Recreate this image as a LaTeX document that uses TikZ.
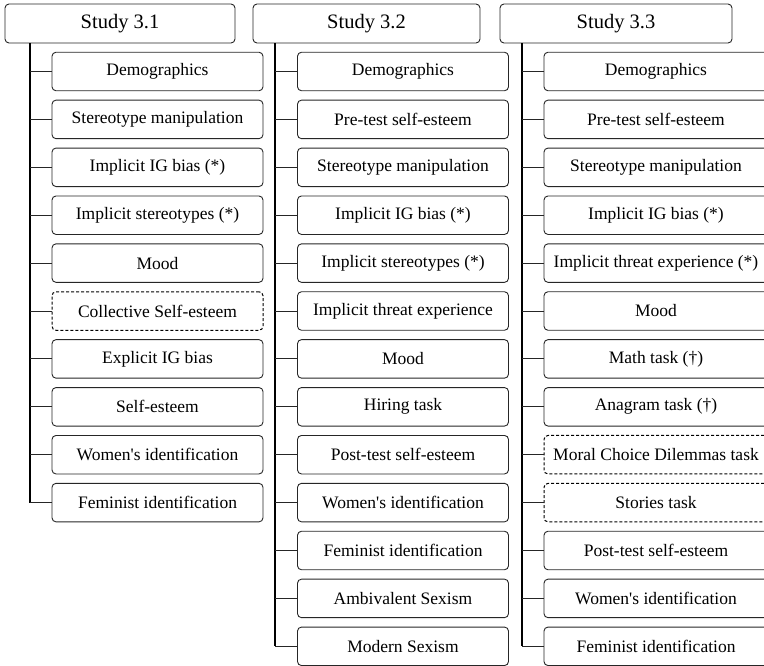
\documentclass[tikz,border=0pt]{standalone}
\usepackage{fontspec}
\setmainfont{Liberation Serif}[Ligatures=TeXOff]
\begin{document}
\begin{tikzpicture}[x=1pt,y=-1pt,
  box/.style={draw=black!85, line width=0.9pt, rounded corners=4pt, inner sep=0pt, align=center},
  head/.style={box, minimum width=230pt, minimum height=39pt, font=\fontsize{20.5}{24}\selectfont},
  item/.style={box, minimum width=211pt, minimum height=38.5pt, font=\fontsize{17.5}{21}\selectfont},
  solid item/.style={item},
  opt item/.style={item, draw=black, line width=1pt, dash pattern=on 3pt off 2pt},
  trunk/.style={draw=black, line width=1.4pt},
  branch/.style={draw=black!85, line width=0.9pt}]
\useasboundingbox (0,0) rectangle (764,665);

\node[head] (h1) at (120,23.5) {Study 3.1};
\node[head, minimum width=227pt] (h2) at (366.5,23.5) {Study 3.2};
\node[head, minimum width=232pt] (h3) at (616,23.5) {Study 3.3};

\coordinate (s1) at (30,0);
\coordinate (s2) at (275,0);
\coordinate (s3) at (522,0);

% Study 3.1
\foreach \t/\s [count=\i] in {Demographics/solid item, Stereotype manipulation/solid item, Implicit IG bias (*)/solid item, Implicit stereotypes (*)/solid item, Mood/solid item, Collective Self-esteem/opt item, Explicit IG bias/solid item, Self-esteem/solid item, Women's identification/solid item, Feminist identification/solid item}{
  \node[\s] (a\i) at (157.5, 71.5+47.9*\i-47.9) {\t};
}

% Study 3.2
\foreach \t [count=\i] in {Demographics, Pre-test self-esteem, Stereotype manipulation, Implicit IG bias (*), Implicit stereotypes (*), Implicit threat experience, Mood, Hiring task, Post-test self-esteem, Women's identification, Feminist identification, Ambivalent Sexism, Modern Sexism}{
  \node[solid item] (b\i) at (403, 71.5+47.9*\i-47.9) {\t};
}

% Study 3.3
\foreach \t/\s [count=\i] in {Demographics/solid item, Pre-test self-esteem/solid item, Stereotype manipulation/solid item, Implicit IG bias (*)/solid item, Implicit threat experience (*)/solid item, Mood/solid item, Math task (\textdagger)/solid item, Anagram task (\textdagger)/solid item, Moral Choice Dilemmas task/opt item, Stories task/opt item, Post-test self-esteem/solid item, Women's identification/solid item, Feminist identification/solid item}{
  \node[\s, minimum width=224pt] (c\i) at (656, 71.5+47.9*\i-47.9) {\t};
}

% trunks and branches
\draw[trunk] (h1.south -| s1) -- (a10.west -| s1);
\foreach \i in {1,...,10}{ \draw[branch] (a\i.west -| s1) -- (a\i.west); }
\draw[trunk] (h2.south -| s2) -- (b13.west -| s2);
\foreach \i in {1,...,13}{ \draw[branch] (b\i.west -| s2) -- (b\i.west); }
\draw[trunk] (h3.south -| s3) -- (c13.west -| s3);
\foreach \i in {1,...,13}{ \draw[branch] (c\i.west -| s3) -- (c\i.west); }
\end{tikzpicture}
\end{document}
